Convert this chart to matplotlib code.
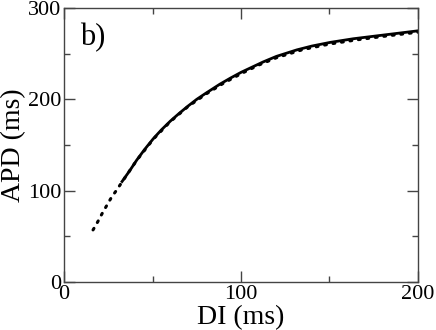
import matplotlib
matplotlib.use('Agg')
import matplotlib.pyplot as plt
from matplotlib.ticker import MultipleLocator

# solid curve
di_solid = [32.8, 37, 41.1, 45.5, 50.5, 55, 60, 65, 70, 75, 80, 88, 94, 100,
            106, 112.6, 120, 131.5, 140, 150.3, 163.4, 182.3, 200]
apd_solid = [110, 121.5, 133.5, 145, 157, 166.5, 176, 184.5, 192.5, 200, 206.5,
             216.5, 223.2, 229.5, 235, 241, 247, 254.1, 258.3, 262.3, 266.3,
             270.8, 275]

# dotted curve
di_dot = [16.4, 19.0, 21.5, 24.1, 26.7, 29.5, 32.8, 41, 50.5, 60, 70, 80, 90,
          100, 110, 120, 135, 150, 165, 180, 200]
apd_dot = [57, 65.7, 74.8, 83.6, 92.3, 100, 109.5, 133, 156.5, 175.5, 192,
           205.5, 217.5, 228, 237.5, 245.5, 254.5, 260.5, 265, 268.8, 273.5]

plt.rcParams['font.family'] = ['Liberation Serif', 'DejaVu Serif']

fig = plt.figure(figsize=(4.36, 3.30), dpi=100)
ax = fig.add_axes([0.1468, 0.1455, 0.8119, 0.8303])

ax.plot(di_dot, apd_dot, color='black', linestyle=(0, (0.6, 2.2)), linewidth=2.2,
        dash_capstyle='round')
ax.plot(di_solid, apd_solid, color='black', linewidth=2.0)

ax.set_xlim(0, 200)
ax.set_ylim(0, 300)
ax.xaxis.set_major_locator(MultipleLocator(100))
ax.xaxis.set_minor_locator(MultipleLocator(50))
ax.yaxis.set_major_locator(MultipleLocator(100))
ax.yaxis.set_minor_locator(MultipleLocator(50))
ax.tick_params(which='both', direction='in', top=True, right=True,
               color='#444444', width=1)
ax.tick_params(which='major', length=8, labelsize=16, pad=2)
ax.tick_params(which='minor', length=4)
for s in ax.spines.values():
    s.set_color('#444444')
    s.set_linewidth(1)

ax.set_xlabel('DI (ms)', fontsize=20, labelpad=1)
ax.set_ylabel('APD (ms)', fontsize=20, labelpad=1)
ax.text(0.045, 0.865, 'b)', transform=ax.transAxes, fontsize=22)

fig.savefig('out.png', dpi=100)
